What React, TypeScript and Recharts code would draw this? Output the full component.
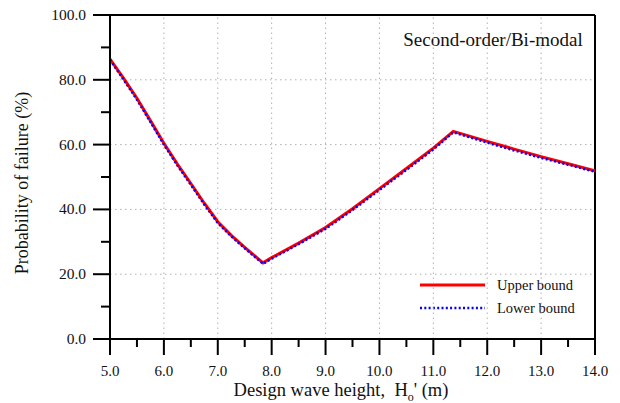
import React from 'react';
import { LineChart, Line, XAxis, YAxis, ReferenceLine } from 'recharts';

// design wave height H_o' (m)
const waveHeight = [
  5.0, 5.25, 5.5, 5.75, 6.0, 6.25, 6.5, 6.75, 7.0, 7.25, 7.5, 7.84, 8.0, 8.5, 9.0, 9.5, 10.0,
  10.5, 11.0, 11.37, 12.0, 12.5, 13.0, 13.5, 14.0,
];
// probability of failure (%)
const upperBound = [
  86.4, 80.5, 74.3, 67.4, 60.4, 54.0, 48.0, 41.9, 36.2, 32.0, 28.3, 23.5, 25.1, 29.6, 34.4,
  40.2, 46.4, 52.6, 58.9, 64.1, 61.0, 58.6, 56.3, 54.1, 51.9,
];
const lowerBound = [
  86.2, 80.1, 73.9, 67.0, 60.0, 53.6, 47.6, 41.5, 35.8, 31.7, 28.0, 23.2, 24.8, 29.3, 34.0,
  39.8, 46.0, 52.2, 58.5, 63.8, 60.6, 58.2, 55.9, 53.8, 51.6,
];

const xTicks = [5, 5.5, 6, 6.5, 7, 7.5, 8, 8.5, 9, 9.5, 10, 10.5, 11, 11.5, 12, 12.5, 13, 13.5, 14];
const yTicks = [0, 10, 20, 30, 40, 50, 60, 70, 80, 90, 100];
const xGrid = [6, 7, 8, 9, 10, 11, 12, 13];
const yGrid = [20, 40, 60, 80];

const data = waveHeight.map((x, i) => ({ x, upper: upperBound[i], lower: lowerBound[i] }));

const FONT = '"Liberation Serif", "Times New Roman", serif';

function XTick(props: any) {
  const { x, y, payload } = props;
  const major = Number.isInteger(payload.value);
  return (
    <g>
      <line x1={x} x2={x} y1={y} y2={y + (major ? 16 : 8)} stroke="#000" strokeWidth={2} />
      {major && (
        <text x={x} y={y + 37} textAnchor="middle" fontFamily={FONT} fontSize={15} fill="#111">
          {payload.value.toFixed(1)}
        </text>
      )}
    </g>
  );
}

function YTick(props: any) {
  const { x, y, payload } = props;
  const major = payload.value % 20 === 0;
  return (
    <g>
      <line x1={x - (major ? 17 : 9)} x2={x} y1={y} y2={y} stroke="#000" strokeWidth={2} />
      {major && (
        <text x={x - 24} y={y + 5} textAnchor="end" fontFamily={FONT} fontSize={15.5} fill="#111">
          {payload.value.toFixed(1)}
        </text>
      )}
    </g>
  );
}

export default function App() {
  return (
    <div style={{ position: 'absolute', left: 0, top: 0, width: 620, height: 403, background: '#fff' }}>
      <LineChart width={620} height={403} data={data} margin={{ top: 15, right: 25, left: 0, bottom: 0 }}>
        {xGrid.map((v) => (
          <ReferenceLine key={'gx' + v} x={v} stroke="#b0b0b0" strokeDasharray="1.5 3.5" strokeWidth={1} />
        ))}
        {yGrid.map((v) => (
          <ReferenceLine key={'gy' + v} y={v} stroke="#b0b0b0" strokeDasharray="1.5 3.5" strokeWidth={1} />
        ))}
        <ReferenceLine y={100} stroke="#000" strokeWidth={2} />
        <ReferenceLine x={14} stroke="#000" strokeWidth={2} />
        <XAxis
          type="number"
          dataKey="x"
          domain={[5, 14]}
          ticks={xTicks}
          interval={0}
          height={64}
          tickSize={0}
          tickMargin={0}
          tickLine={false}
          tick={<XTick />}
          axisLine={{ stroke: '#000', strokeWidth: 2 }}
          allowDataOverflow
        />
        <YAxis
          type="number"
          domain={[0, 100]}
          ticks={yTicks}
          interval={0}
          width={110}
          tickSize={0}
          tickMargin={0}
          tickLine={false}
          tick={<YTick />}
          axisLine={{ stroke: '#000', strokeWidth: 2 }}
          allowDataOverflow
        />
        <Line
          type="linear"
          dataKey="upper"
          stroke="#ff0000"
          strokeWidth={3}
          dot={false}
          isAnimationActive={false}
        />
        <Line
          type="linear"
          dataKey="lower"
          stroke="#0000ff"
          strokeWidth={2.5}
          strokeDasharray="2 2.3"
          dot={false}
          isAnimationActive={false}
        />
        {/* legend */}
        <g>
          <rect x={410} y={272} width={180} height={48} fill="#fff" />
          <line x1={420} x2={485} y1={285} y2={285} stroke="#ff0000" strokeWidth={3} />
          <text x={497} y={290} fontFamily={FONT} fontSize={14.5} fill="#111">Upper bound</text>
          <line x1={420} x2={485} y1={308} y2={308} stroke="#0000ff" strokeWidth={2.5} strokeDasharray="2 2.3" />
          <text x={497} y={313} fontFamily={FONT} fontSize={14.5} fill="#111">Lower bound</text>
        </g>
        <text x={493} y={46} textAnchor="middle" fontFamily={FONT} fontSize={19} fill="#111">
          Second-order/Bi-modal
        </text>
        <text
          x={28}
          y={183}
          transform="rotate(-90 28 183)"
          textAnchor="middle"
          fontFamily={FONT}
          fontSize={18}
          fill="#111"
        >
          Probability of failure (%)
        </text>
        <text x={341} y={396} textAnchor="middle" fontFamily={FONT} fontSize={18.5} fill="#111">
          Design wave height,{'\u00a0\u00a0'}H
          <tspan fontSize={12} dy={5}>o</tspan>
          <tspan dy={-5}>' (m)</tspan>
        </text>
      </LineChart>
    </div>
  );
}
